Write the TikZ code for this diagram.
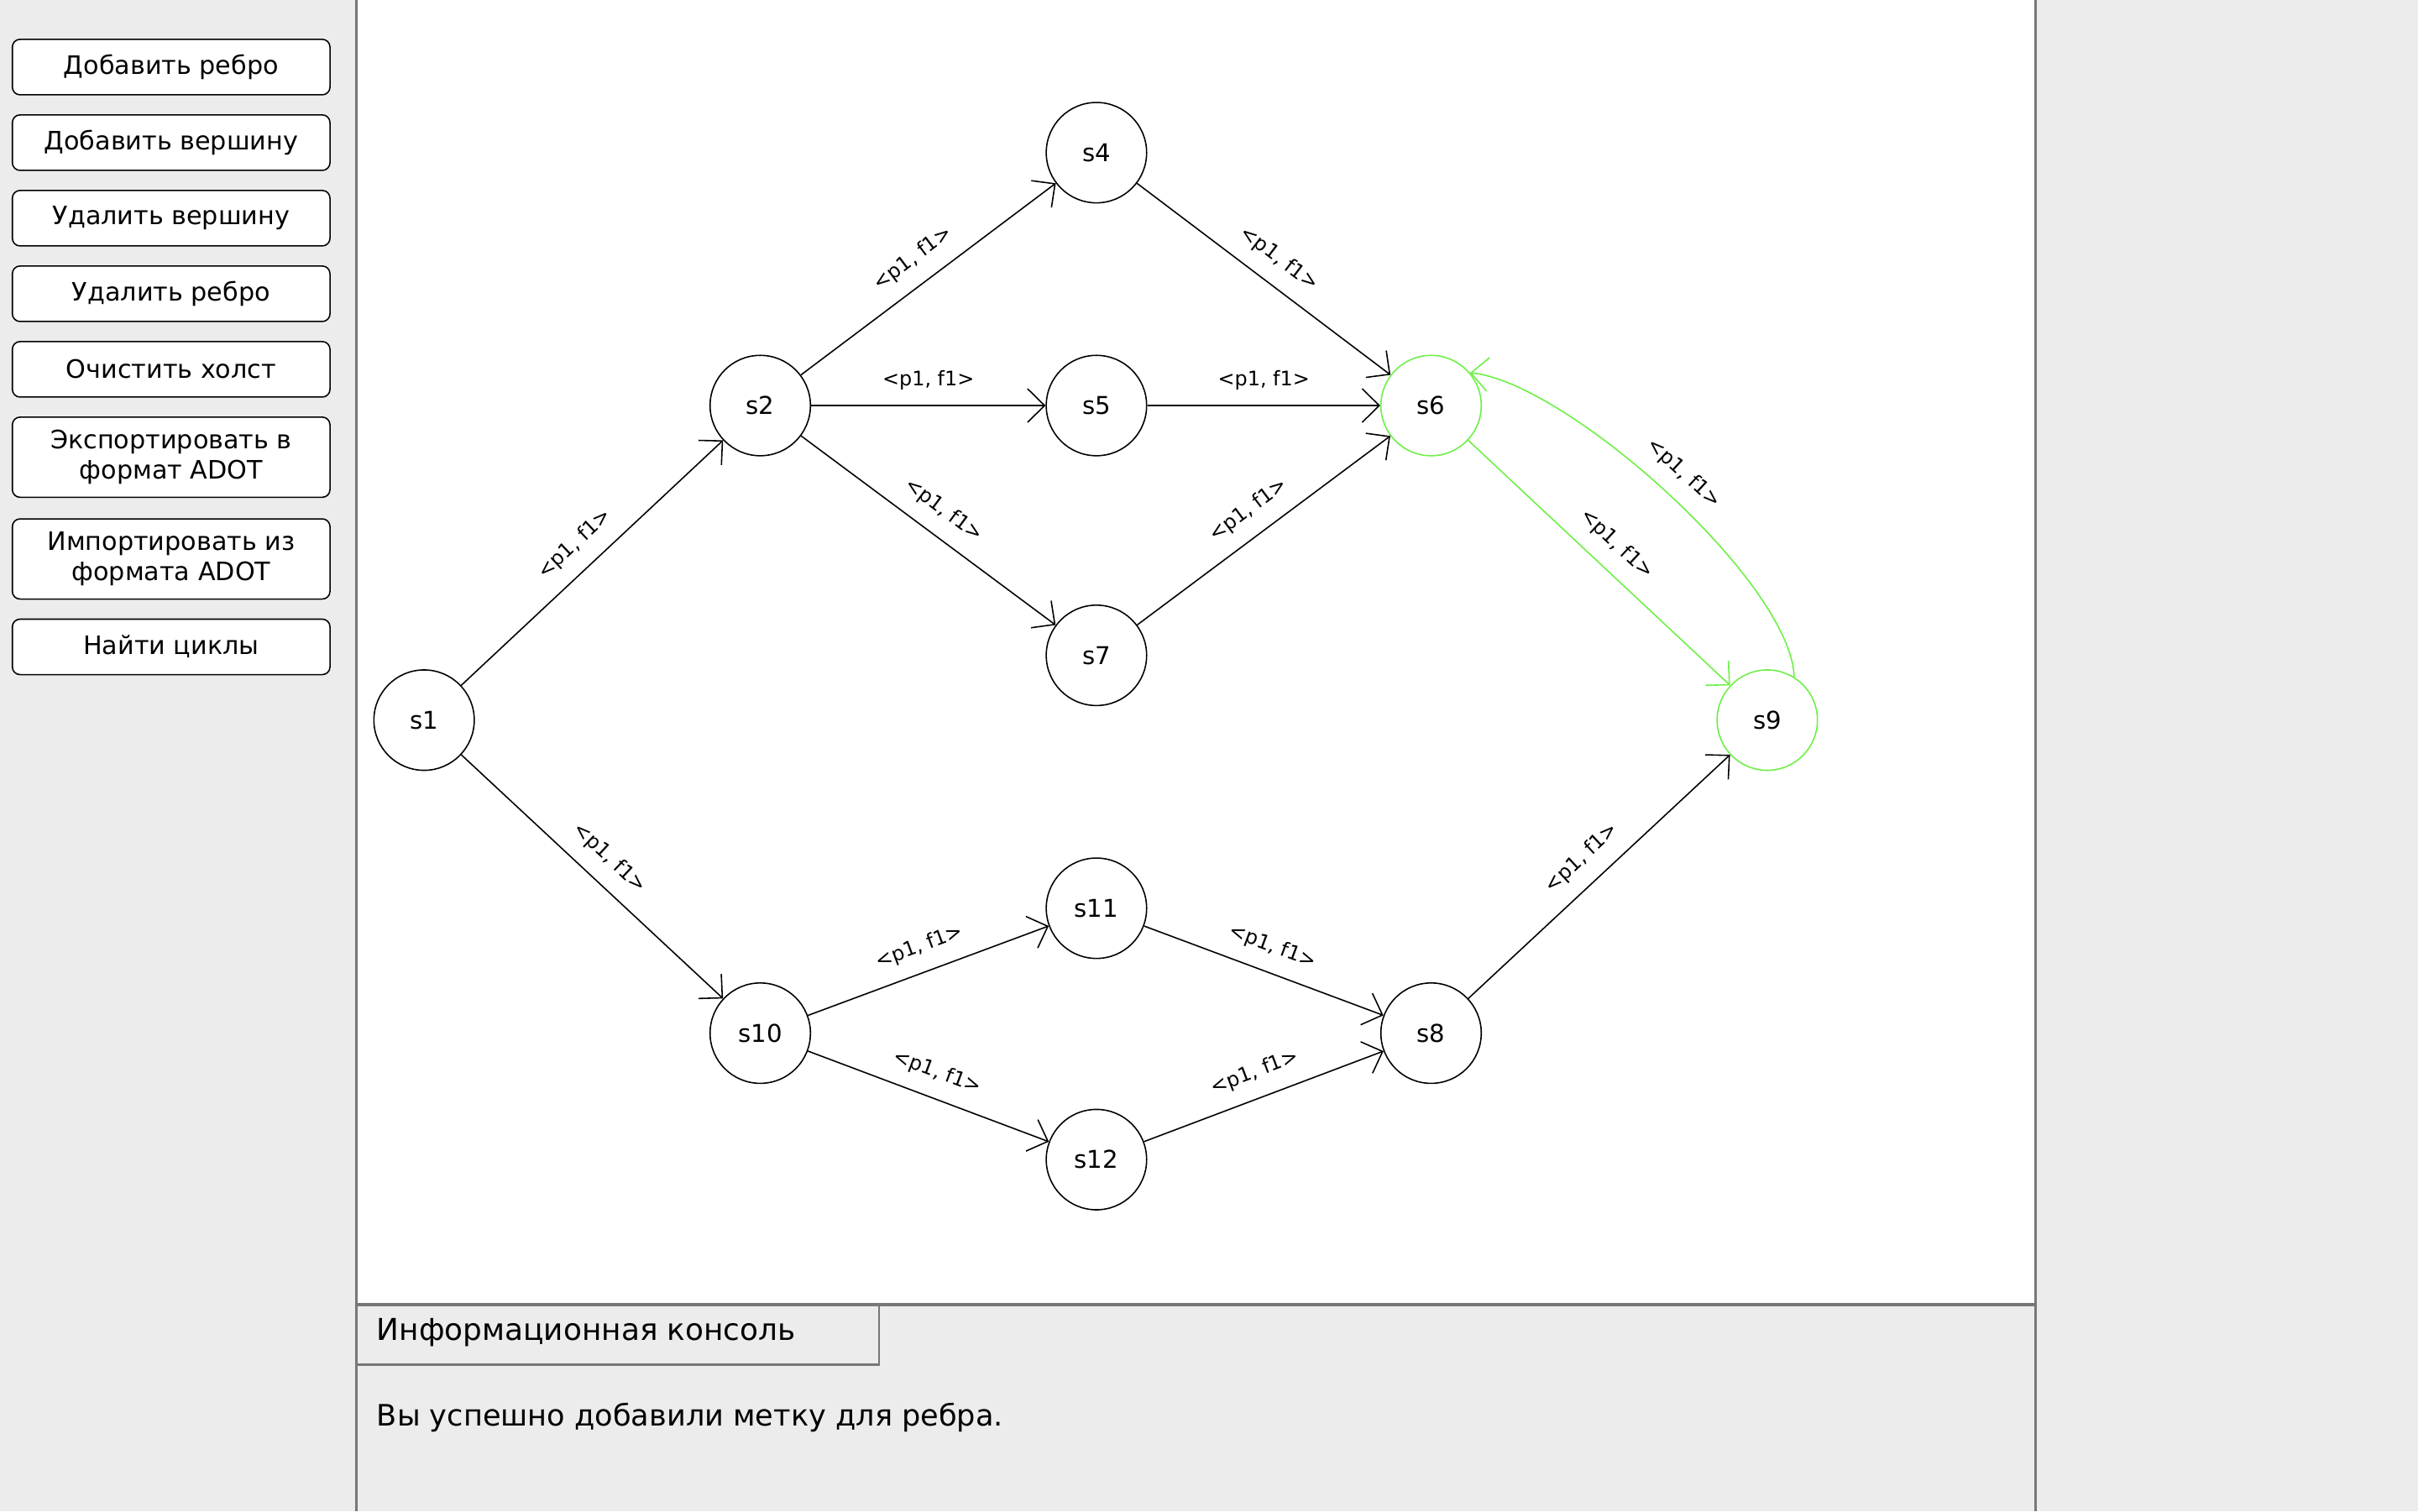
\documentclass[tikz,border=0pt]{standalone}
\usepackage{fontspec}
\setmainfont{DejaVu Sans}
\usetikzlibrary{arrows.meta}
\definecolor{panelgray}{RGB}{236,236,236}
\definecolor{linegray}{RGB}{119,119,119}
\definecolor{cyclegreen}{RGB}{110,240,70}
\begin{document}
\begin{tikzpicture}[x=0.018367cm,y=-0.018367cm,line width=0.45pt,
		state/.style={draw,circle,minimum size=1.196cm,inner sep=0pt,font=\fontsize{8.3}{10}\selectfont},
		found/.style={color=cyclegreen,text=black},
		button/.style={draw,fill=white,rounded corners=2.6pt,minimum width=3.784cm,minimum height=0.661cm,inner sep=0pt,align=center,font=\fontsize{8.6}{10.4}\selectfont},
		link/.style={-{Straight Barb[length=5.8pt,width=11.4pt]}},
		weight/.style={midway,sloped,above=2.8pt,inner sep=2.3pt,text=black,font=\fontsize{6.8}{8}\selectfont}
	]
		\useasboundingbox (0,0) rectangle (1568,980);
		\fill[color=panelgray] (0,0) rectangle (1568,980);
		\fill[color=white] (231,0) rectangle (1320,846);
		\draw[color=linegray,line width=1pt] (231,0) -- (231,980);
		\draw[color=linegray,line width=1pt] (1320,0) -- (1320,980);
		\draw[color=linegray,line width=1pt] (231,846) -- (1320,846);
		\draw[color=linegray,line width=0.8pt] (570,846) -- (570,885);
		\draw[color=linegray,line width=1pt] (231,885) -- (570.4,885);

		\node[button] (addedge) at (111,43.5) {Добавить ребро};
		\node[button] (addvertex) at (111,92.5) {Добавить вершину};
		\node[button] (delvertex) at (111,141.5) {Удалить вершину};
		\node[button] (deledge) at (111,190.5) {Удалить ребро};
		\node[button] (clear) at (111,239.5) {Очистить холст};
		\node[button,minimum height=0.955cm] (export) at (111,296.5) {Экспортировать в\\формат ADOT};
		\node[button,minimum height=0.955cm] (import) at (111,362.5) {Импортировать из\\формата ADOT};
		\node[button] (cycles) at (111,419.5) {Найти циклы};

		\node[anchor=base west,inner sep=0pt,font=\fontsize{10.2}{12}\selectfont] (consoletitle) at (244,869) {Информационная консоль};
		\node[anchor=base west,inner sep=0pt,font=\fontsize{10}{12}\selectfont] (message) at (244,924.5) {Вы успешно добавили метку для ребра.};

		\node[state] (s1) at (275,467) {s1};
		\node[state] (s2) at (493,263) {s2};
		\node[state] (s4) at (711,99) {s4};
		\node[state] (s5) at (711,263) {s5};
		\node[state] (s7) at (711,425) {s7};
		\node[state,found] (s6) at (928,263) {s6};
		\node[state,found] (s9) at (1146,467) {s9};
		\node[state] (s10) at (493,670) {s10};
		\node[state] (s11) at (711,589) {s11};
		\node[state] (s12) at (711,752) {s12};
		\node[state] (s8) at (928,670) {s8};

		\draw[link] (s1) -- node[weight] {<p1, f1>} (s2);
		\draw[link] (s2) -- node[weight] {<p1, f1>} (s4);
		\draw[link] (s2) -- node[weight] {<p1, f1>} (s5);
		\draw[link] (s2) -- node[weight] {<p1, f1>} (s7);
		\draw[link] (s4) -- node[weight] {<p1, f1>} (s6);
		\draw[link] (s5) -- node[weight] {<p1, f1>} (s6);
		\draw[link] (s7) -- node[weight] {<p1, f1>} (s6);
		\draw[link,found] (s6) -- node[weight] {<p1, f1>} (s9);
		\draw[link,found] (s9.58) to[out=92,in=-5,looseness=0.55] node[weight] {<p1, f1>} (s6.40);
		\draw[link] (s1) -- node[weight] {<p1, f1>} (s10);
		\draw[link] (s10) -- node[weight] {<p1, f1>} (s11);
		\draw[link] (s10) -- node[weight] {<p1, f1>} (s12);
		\draw[link] (s11) -- node[weight] {<p1, f1>} (s8);
		\draw[link] (s12) -- node[weight] {<p1, f1>} (s8);
		\draw[link] (s8) -- node[weight] {<p1, f1>} (s9);
	\end{tikzpicture}
\end{document}
